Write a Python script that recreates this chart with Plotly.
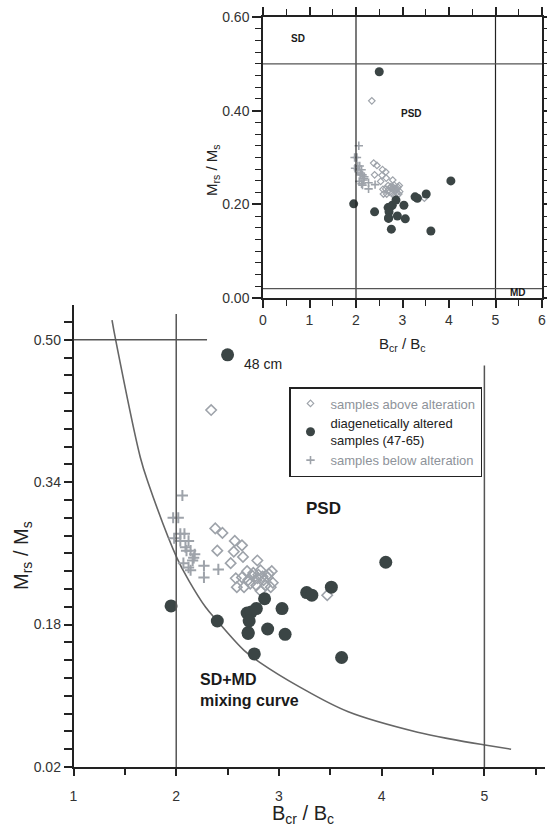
import plotly.graph_objects as go

# ---------------- data ----------------
altered_x = [2.50, 1.95, 2.40, 2.69, 2.73, 2.78, 2.71, 2.70, 2.70, 2.89, 3.06, 2.76, 3.61, 3.03, 2.86, 3.27, 3.32, 3.51, 4.04]
altered_y = [0.483, 0.201, 0.184, 0.193, 0.194, 0.198, 0.184, 0.171, 0.170, 0.175, 0.169, 0.147, 0.143, 0.198, 0.209, 0.216, 0.213, 0.222, 0.250]

above_x = [2.34, 2.38, 2.45, 2.57, 2.64, 2.40, 2.56, 2.65, 2.53, 2.79, 2.93, 2.58, 2.64, 2.59, 2.66, 2.75, 2.82,
           2.85, 2.92, 2.79, 2.70, 2.74, 2.89, 2.94, 3.47, 2.80, 2.84, 2.72, 2.78, 2.87, 2.82, 2.69, 2.90]
above_y = [0.421, 0.288, 0.283, 0.274, 0.269, 0.263, 0.262, 0.256, 0.249, 0.252, 0.240, 0.232, 0.233, 0.222, 0.222,
           0.238, 0.241, 0.230, 0.222, 0.232, 0.230, 0.235, 0.233, 0.227, 0.213, 0.236, 0.234, 0.226, 0.224, 0.224,
           0.218, 0.240, 0.237]

below_x = [2.06, 1.97, 2.02, 1.98, 2.04, 2.08, 2.04, 2.12, 2.09, 2.14, 2.17, 2.16, 2.07, 2.12, 2.27, 2.41, 2.27, 2.14, 2.10, 2.18]
below_y = [0.325, 0.300, 0.300, 0.277, 0.282, 0.282, 0.274, 0.274, 0.267, 0.263, 0.255, 0.252, 0.249, 0.244, 0.246,
           0.242, 0.233, 0.241, 0.263, 0.259]

curve_x = [1.375, 1.41, 1.65, 1.725, 2.01, 2.12, 2.285, 2.40, 2.66, 2.82, 3.20, 3.675, 4.35, 4.69, 4.99, 5.26]
curve_y = [0.522, 0.500, 0.368, 0.340, 0.254, 0.230, 0.1997, 0.184, 0.151, 0.137, 0.110, 0.082, 0.059, 0.051, 0.045, 0.040]

main_xticks = [1, 2, 3, 4, 5]
main_yticks = [0.02, 0.18, 0.34, 0.50]
inset_xticks = [0, 1, 2, 3, 4, 5, 6]
inset_yticks = [0.0, 0.2, 0.4, 0.6]

bcr_bc_limits = [2, 5]        # vertical boundaries
mrs_ms_limits = [0.5, 0.02]   # horizontal boundaries

# ---------------- style ----------------
FONT = "Liberation Sans, Arial, sans-serif"
DARK = "#3b4545"
GRAY = "#9ea3aa"
LINE = "#555555"
AX = "#222222"

fig = go.Figure()

# main plot
fig.add_trace(go.Scatter(x=curve_x, y=curve_y, mode="lines", line=dict(color="#666666", width=1.6, shape="spline", smoothing=1.0),
                         showlegend=False, hoverinfo="skip", xaxis="x", yaxis="y"))
fig.add_trace(go.Scatter(x=above_x, y=above_y, mode="markers", showlegend=False, xaxis="x", yaxis="y",
                         marker=dict(symbol="diamond-open", size=8, color=GRAY, line=dict(width=1.6, color=GRAY))))
fig.add_trace(go.Scatter(x=below_x, y=below_y, mode="markers", showlegend=False, xaxis="x", yaxis="y",
                         marker=dict(symbol="cross-thin", size=8, color=GRAY, line=dict(width=2, color=GRAY))))
fig.add_trace(go.Scatter(x=altered_x, y=altered_y, mode="markers", showlegend=False, xaxis="x", yaxis="y",
                         marker=dict(symbol="circle", size=13, color=DARK, line=dict(width=0))))

# inset (also used for legend)
fig.add_trace(go.Scatter(x=above_x, y=above_y, mode="markers", xaxis="x2", yaxis="y2",
                         name="<span style='color:#8e939a'>samples above alteration</span>",
                         marker=dict(symbol="diamond-open", size=5, color=GRAY, line=dict(width=1.2, color=GRAY))))
fig.add_trace(go.Scatter(x=altered_x, y=altered_y, mode="markers", xaxis="x2", yaxis="y2",
                         name="diagenetically altered<br>samples (47-65)",
                         marker=dict(symbol="circle", size=9, color=DARK, line=dict(width=0))))
fig.add_trace(go.Scatter(x=below_x, y=below_y, mode="markers", xaxis="x2", yaxis="y2",
                         name="<span style='color:#8e939a'>samples below alteration</span>",
                         marker=dict(symbol="cross-thin", size=6, color=GRAY, line=dict(width=1.6, color=GRAY))))

shapes = []
# main reference lines (partially hidden by inset in original)
shapes.append(dict(type="line", xref="x", yref="y", x0=bcr_bc_limits[0], x1=bcr_bc_limits[0], y0=0.02, y1=0.529,
                   line=dict(color=LINE, width=1.5)))
shapes.append(dict(type="line", xref="x", yref="y", x0=bcr_bc_limits[1], x1=bcr_bc_limits[1], y0=0.02, y1=0.471,
                   line=dict(color=LINE, width=1.5)))
shapes.append(dict(type="line", xref="x", yref="y", x0=1, x1=2.30, y0=mrs_ms_limits[0], y1=mrs_ms_limits[0],
                   line=dict(color=LINE, width=1.5)))
# inset reference lines
for v in bcr_bc_limits:
    shapes.append(dict(type="line", xref="x2", yref="y2", x0=v, x1=v, y0=0, y1=0.6, line=dict(color=AX, width=1.2)))
for h in mrs_ms_limits:
    shapes.append(dict(type="line", xref="x2", yref="y2", x0=0, x1=6, y0=h, y1=h, line=dict(color=LINE, width=1.2)))

W, H = 547, 830
def px(x):
    return x / W
def py(y):
    return (H - y) / H

def ann(**kw):
    d = dict(showarrow=False, xanchor="center", yanchor="middle")
    d.update(kw)
    return d

annotations = [
    ann(xref="x", yref="y", x=2.84, y=0.473, text="48 cm", font=dict(size=14, color="#222")),
    ann(xref="x", yref="y", x=3.43, y=0.310, text="<b>PSD</b>", font=dict(size=17, color="#1a1a1a")),
    ann(xref="x", yref="y", x=2.21, y=0.106, text="<b>SD+MD<br>mixing curve</b>", xanchor="left",
        align="left", font=dict(size=16, color="#1a1a1a")),
    ann(xref="x2", yref="y2", x=0.75, y=0.555, text="<b>SD</b>", font=dict(size=10, color="#1a1a1a")),
    ann(xref="x2", yref="y2", x=3.2, y=0.395, text="<b>PSD</b>", font=dict(size=10, color="#1a1a1a")),
    ann(xref="x2", yref="y2", x=5.48, y=0.011, text="<b>MD</b>", font=dict(size=10, color="#1a1a1a")),
    # axis titles
    ann(xref="paper", yref="paper", x=px(303), y=py(814), text="B<sub>cr</sub> / B<sub>c</sub>",
        font=dict(size=20, color="#222")),
    ann(xref="paper", yref="paper", x=px(22), y=py(556), text="M<sub>rs</sub> / M<sub>s</sub>",
        textangle=-90, font=dict(size=20, color="#222")),
    ann(xref="paper", yref="paper", x=px(402), y=py(345), text="B<sub>cr</sub> / B<sub>c</sub>",
        font=dict(size=15, color="#222")),
    ann(xref="paper", yref="paper", x=px(212), y=py(170), text="M<sub>rs</sub> / M<sub>s</sub>",
        textangle=-90, font=dict(size=15, color="#222")),
]

axis_common = dict(showgrid=False, zeroline=False, showline=True, linecolor=AX, linewidth=1.5, automargin=False,
                   ticks="outside", tickcolor=AX, tickwidth=1.5, tickfont=dict(size=14, color="#333"))

fig.update_layout(
    template="none",
    width=W, height=H, margin=dict(l=0, r=0, t=0, b=0, pad=0), autosize=False,
    paper_bgcolor="white", plot_bgcolor="rgba(0,0,0,0)",
    font=dict(family=FONT, color="#222"),
    xaxis=dict(domain=[px(73.5), px(545)], range=[1, 5.59], tickvals=main_xticks, ticklen=7, ticklabelstandoff=8,
               minor=dict(dtick=0.5, tick0=1, ticklen=6, ticks="outside", tickcolor=AX, tickwidth=1.5, showgrid=False),
               anchor="y", **axis_common),
    yaxis=dict(domain=[py(767), py(305)], range=[0.02, 0.539], tickvals=main_yticks, tickformat=".2f", ticklen=8,
               minor=dict(dtick=0.02, tick0=0.02, ticklen=8, ticks="outside", tickcolor=AX, tickwidth=1.5, showgrid=False),
               anchor="x", **axis_common),
    xaxis2=dict(domain=[px(263), px(542)], range=[0, 6], tickvals=inset_xticks, ticklen=8, mirror="allticks",
                minor=dict(dtick=0.5, tick0=0, ticklen=6, ticks="outside", tickcolor=AX, tickwidth=1.2, showgrid=False),
                anchor="y2", **axis_common),
    yaxis2=dict(domain=[py(298), py(17)], range=[0, 0.6], tickvals=inset_yticks, tickformat=".2f", ticklen=9,
                mirror="allticks",
                minor=dict(dtick=0.025, tick0=0, ticklen=6, ticks="outside", tickcolor=AX, tickwidth=1.2, showgrid=False),
                anchor="x2", **axis_common),
    legend=dict(x=px(289), y=py(387), xanchor="left", yanchor="top", bgcolor="white",
                bordercolor="#222", borderwidth=1.5, font=dict(size=13, color="#222", family=FONT),
                itemsizing="trace", tracegroupgap=0),
    shapes=shapes,
    annotations=annotations,
)

fig.write_html("out.html")
